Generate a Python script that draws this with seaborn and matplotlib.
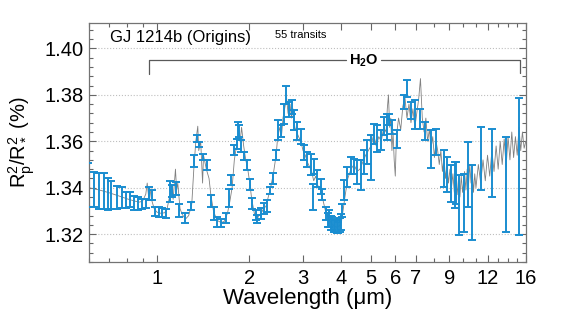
import numpy as np
import pandas as pd
import matplotlib
matplotlib.use("Agg")
import matplotlib.pyplot as plt
import seaborn as sns
from matplotlib.ticker import FixedLocator, FixedFormatter, NullFormatter, MultipleLocator, AutoMinorLocator

# simulated data points: wavelength (um), depth (%), 1-sigma error
wavelength = [0.597, 0.624, 0.649, 0.673, 0.694, 0.709, 0.742, 0.770, 0.794, 0.818,
              0.843, 0.869, 0.895, 0.923, 0.944, 0.965, 0.987, 1.017, 1.041, 1.072,
              1.105, 1.122, 1.156, 1.182, 1.237, 1.294, 1.323, 1.353, 1.374, 1.414,
              1.459, 1.504, 1.538, 1.573, 1.621, 1.683, 1.722, 1.748, 1.787, 1.828,
              1.842, 1.856, 1.884, 1.927, 1.971, 2.016, 2.046, 2.109, 2.125, 2.189,
              2.239, 2.290, 2.342, 2.395, 2.450, 2.487, 2.544, 2.602, 2.641, 2.702,
              2.764, 2.805, 2.870, 2.957, 3.024, 3.093, 3.187, 3.236, 3.261, 3.334,
              3.436, 3.462, 3.568, 3.622, 3.649, 3.690, 3.733, 3.776, 3.818, 3.860,
              3.905, 3.950, 3.994, 4.024, 4.085, 4.178, 4.305, 4.403, 4.504, 4.641,
              4.747, 4.855, 5.003, 5.117, 5.234, 5.394, 5.515, 5.641, 5.727, 5.857,
              6.081, 6.410, 6.556, 6.756, 6.962, 7.228, 7.505, 7.852, 8.151, 8.657,
              8.855, 9.125, 9.403, 9.474, 9.690, 10.06, 10.37, 10.69, 11.43, 12.42,
              13.80, 15.21]
depth = [1.3411, 1.3392, 1.3386, 1.3385, 1.3375, 1.3368, 1.3357, 1.3358, 1.3348, 1.3348,
         1.3334, 1.3332, 1.3329, 1.3331, 1.3375, 1.3368, 1.3297, 1.3295, 1.3293, 1.3290,
         1.3382, 1.3386, 1.3397, 1.3303, 1.3268, 1.3321, 1.3515, 1.3611, 1.3586, 1.3532,
         1.3497, 1.3343, 1.3289, 1.3253, 1.3248, 1.3268, 1.3357, 1.3432, 1.3561, 1.3590,
         1.3647, 1.3644, 1.3579, 1.3536, 1.3497, 1.3414, 1.3332, 1.3282, 1.3264, 1.3289,
         1.3311, 1.3321, 1.3389, 1.3440, 1.3540, 1.3647, 1.3644, 1.3719, 1.3801, 1.3737,
         1.3748, 1.3690, 1.3644, 1.3622, 1.3551, 1.3522, 1.3500, 1.3360, 1.3493, 1.3440,
         1.3407, 1.3371, 1.3289, 1.3262, 1.3268, 1.3250, 1.3246, 1.3238, 1.3235, 1.3232,
         1.3228, 1.3240, 1.3253, 1.3303, 1.3389, 1.3446, 1.3497, 1.3493, 1.3468, 1.3454,
         1.3511, 1.3554, 1.3529, 1.3633, 1.3611, 1.3604, 1.3665, 1.3661, 1.3694, 1.3661,
         1.3608, 1.3769, 1.3828, 1.3733, 1.3715, 1.3698, 1.3644, 1.3565, 1.3597, 1.3483,
         1.3457, 1.3418, 1.3411, 1.3422, 1.3325, 1.3335, 1.3457, 1.3335, 1.3526, 1.3508,
         1.3414, 1.3492]
depth_err = [0.0096, 0.0076, 0.0078, 0.0077, 0.0069, 0.0060, 0.0049, 0.0046, 0.0034, 0.0032,
             0.0029, 0.0027, 0.0022, 0.0020, 0.0029, 0.0022, 0.0020, 0.0020, 0.0020, 0.0020,
             0.0045, 0.0025, 0.0029, 0.0029, 0.0022, 0.0018, 0.0025, 0.0014, 0.0011, 0.0014,
             0.0022, 0.0025, 0.0029, 0.0022, 0.0019, 0.0022, 0.0039, 0.0022, 0.0022, 0.0022,
             0.0036, 0.0025, 0.0025, 0.0018, 0.0022, 0.0025, 0.0022, 0.0022, 0.0018, 0.0022,
             0.0022, 0.0025, 0.0014, 0.0022, 0.0022, 0.0043, 0.0025, 0.0043, 0.0039, 0.0032,
             0.0029, 0.0043, 0.0039, 0.0032, 0.0032, 0.0032, 0.0047, 0.0057, 0.0032, 0.0036,
             0.0032, 0.0025, 0.0029, 0.0030, 0.0036, 0.0030, 0.0029, 0.0028, 0.0025, 0.0027,
             0.0025, 0.0030, 0.0036, 0.0029, 0.0043, 0.0043, 0.0036, 0.0032, 0.0050, 0.0065,
             0.0050, 0.0050, 0.0097, 0.0043, 0.0057, 0.0043, 0.0039, 0.0057, 0.0025, 0.0029,
             0.0039, 0.0029, 0.0037, 0.0036, 0.0061, 0.0043, 0.0039, 0.0082, 0.0057, 0.0079,
             0.0075, 0.0079, 0.0100, 0.0090, 0.0129, 0.0125, 0.0140, 0.0161, 0.0136, 0.0147,
             0.0204, 0.0296]

# model spectrum (grey line)
model_wl = [0.60, 0.65, 0.70, 0.75, 0.80, 0.85, 0.88, 0.90, 0.92, 0.93, 0.94, 0.95, 0.96, 0.98,
            1.00, 1.03, 1.06, 1.08, 1.10, 1.12, 1.13, 1.15, 1.16, 1.17, 1.19, 1.21, 1.24, 1.27,
            1.30, 1.32, 1.34, 1.36, 1.37, 1.39, 1.41, 1.42, 1.45, 1.48, 1.50, 1.53, 1.57, 1.62,
            1.66, 1.70, 1.73, 1.76, 1.79, 1.82, 1.85, 1.87, 1.89, 1.92, 1.95, 1.98, 2.01, 2.04,
            2.08, 2.12, 2.15, 2.19, 2.23, 2.27, 2.31, 2.35, 2.40, 2.45, 2.48, 2.52, 2.55, 2.58,
            2.62, 2.65, 2.68, 2.72, 2.75, 2.78, 2.82, 2.86, 2.90, 2.95, 3.00, 3.05, 3.10, 3.15,
            3.20, 3.25, 3.30, 3.35, 3.42, 3.48, 3.55, 3.62, 3.70, 3.78, 3.86, 3.94, 4.00, 4.05,
            4.12, 4.20, 4.30, 4.40, 4.50, 4.60, 4.70, 4.80, 4.90, 5.00, 5.10, 5.20, 5.30, 5.40,
            5.50, 5.60, 5.65, 5.70, 5.75, 5.80, 5.85, 5.90, 5.95, 6.00, 6.05, 6.15, 6.25, 6.35,
            6.45, 6.55, 6.65, 6.75, 6.85, 6.95, 7.05, 7.15, 7.25, 7.35, 7.45, 7.55, 7.65, 7.75,
            7.85, 7.95, 8.05, 8.15, 8.25, 8.35, 8.45, 8.55, 8.65, 8.75, 8.85, 8.95, 9.05, 9.15,
            9.25, 9.35, 9.45, 9.55, 9.65, 9.75, 9.85, 9.95, 10.1, 10.2, 10.3, 10.4, 10.5, 10.6,
            10.7, 10.8, 10.9, 11.0, 11.2, 11.4, 11.6, 11.8, 12.0, 12.2, 12.4, 12.6, 12.8, 13.0,
            13.2, 13.4, 13.6, 13.8, 14.0, 14.2, 14.4, 14.6, 14.8, 15.0, 15.2, 15.4, 15.6, 15.8,
            16.0]
model_depth = [1.3400, 1.3390, 1.3378, 1.3365, 1.3352, 1.3342, 1.3338, 1.3345, 1.3372, 1.3420,
               1.3360, 1.3395, 1.3350, 1.3310, 1.3295, 1.3290, 1.3292, 1.3310, 1.3360, 1.3410,
               1.3350, 1.3480, 1.3390, 1.3420, 1.3310, 1.3285, 1.3265, 1.3280, 1.3330, 1.3480,
               1.3600, 1.3665, 1.3560, 1.3600, 1.3420, 1.3540, 1.3480, 1.3440, 1.3370, 1.3300,
               1.3260, 1.3250, 1.3255, 1.3290, 1.3340, 1.3400, 1.3520, 1.3580, 1.3640, 1.3600,
               1.3660, 1.3580, 1.3520, 1.3480, 1.3420, 1.3350, 1.3290, 1.3260, 1.3280, 1.3290,
               1.3310, 1.3320, 1.3360, 1.3400, 1.3460, 1.3540, 1.3620, 1.3660, 1.3620, 1.3700,
               1.3750, 1.3790, 1.3720, 1.3760, 1.3700, 1.3740, 1.3660, 1.3640, 1.3620, 1.3600,
               1.3560, 1.3540, 1.3510, 1.3490, 1.3470, 1.3430, 1.3450, 1.3410, 1.3390, 1.3350,
               1.3300, 1.3270, 1.3250, 1.3235, 1.3230, 1.3235, 1.3250, 1.3300, 1.3370, 1.3440,
               1.3480, 1.3500, 1.3470, 1.3480, 1.3510, 1.3540, 1.3560, 1.3580, 1.3630, 1.3580,
               1.3620, 1.3600, 1.3660, 1.3640, 1.3740, 1.3800, 1.3660, 1.3700, 1.3560, 1.3640,
               1.3520, 1.3450, 1.3620, 1.3700, 1.3650, 1.3750, 1.3790, 1.3700, 1.3760, 1.3680,
               1.3740, 1.3660, 1.3720, 1.3780, 1.3870, 1.3700, 1.3640, 1.3700, 1.3600, 1.3650,
               1.3570, 1.3620, 1.3530, 1.3600, 1.3560, 1.3500, 1.3560, 1.3470, 1.3530, 1.3440,
               1.3500, 1.3420, 1.3480, 1.3400, 1.3460, 1.3380, 1.3450, 1.3370, 1.3440, 1.3360,
               1.3450, 1.3380, 1.3470, 1.3390, 1.3480, 1.3410, 1.3500, 1.3420, 1.3470, 1.3380,
               1.3460, 1.3400, 1.3500, 1.3420, 1.3520, 1.3430, 1.3540, 1.3450, 1.3560, 1.3470,
               1.3580, 1.3480, 1.3600, 1.3500, 1.3610, 1.3490, 1.3620, 1.3520, 1.3640, 1.3530,
               1.3620, 1.3540, 1.3660, 1.3560, 1.3640, 1.3570, 1.3600]

major_ticks = [1, 2, 3, 4, 5, 6, 7, 9, 12, 16]
minor_ticks = [0.6, 0.7, 0.8, 0.9, 8, 10, 11, 13, 14, 15]

sns.set_theme(style="ticks")
plt.rcParams['font.family'] = ['Liberation Sans', 'DejaVu Sans']
plt.rcParams['mathtext.fontset'] = 'custom'
plt.rcParams['mathtext.rm'] = 'Liberation Sans'
plt.rcParams['mathtext.it'] = 'Liberation Sans'
plt.rcParams['mathtext.bf'] = 'Liberation Sans:bold'
plt.rcParams['text.color'] = 'black'
plt.rcParams['axes.labelcolor'] = 'black'

fig = plt.figure(figsize=(5.81, 3.09), dpi=100)
ax = fig.add_axes([0.153, 0.152, 0.752, 0.774])

model = pd.DataFrame({'wl': model_wl, 'depth': model_depth})
sns.lineplot(data=model, x='wl', y='depth', ax=ax, color='0.5', lw=0.6, estimator=None, zorder=2)

ax.errorbar(wavelength, depth, yerr=depth_err, fmt='none', ecolor='#1a8dd0',
            elinewidth=1.4, capsize=2.6, capthick=1.4, zorder=3)

ax.set_xscale('log')
ax.set_xlim(0.6, 16)
ax.set_ylim(1.308, 1.411)
ax.xaxis.set_major_locator(FixedLocator(major_ticks))
ax.xaxis.set_major_formatter(FixedFormatter([str(t) for t in major_ticks]))
ax.xaxis.set_minor_locator(FixedLocator(minor_ticks))
ax.xaxis.set_minor_formatter(NullFormatter())
ax.yaxis.set_major_locator(MultipleLocator(0.02))
ax.yaxis.set_minor_locator(AutoMinorLocator(5))
ax.yaxis.set_major_formatter(plt.FormatStrFormatter('%.2f'))

ax.yaxis.grid(True, which='major', linestyle=':', color='0.75', lw=0.8)
ax.set_axisbelow(True)

ax.tick_params(which='both', direction='in', top=True, right=True, colors='0.4',
               labelcolor='black', labelsize=14.5)
ax.tick_params(which='major', length=5, width=0.8)
ax.tick_params(which='minor', length=3, width=0.8)
ax.tick_params(axis='x', pad=5)
ax.tick_params(axis='y', pad=4)
for s in ax.spines.values():
    s.set_color('0.45')
    s.set_linewidth(0.9)

ax.set_xlabel('Wavelength (μm)', fontsize=16, labelpad=0)
ax.set_ylabel(r'R$_p^2$/R$_*^2$ (%)', fontsize=14.5, labelpad=5)

ax.text(0.048, 0.937, 'GJ 1214b (Origins)', transform=ax.transAxes, fontsize=12, va='center')
ax.text(0.426, 0.95, '55 transits', transform=ax.transAxes, fontsize=8, va='center')

# H2O band bracket
ax.plot([0.944, 0.944, 4.15], [1.3888, 1.3948, 1.3948], color='0.35', lw=0.9)
ax.plot([5.4, 15.3, 15.3], [1.3948, 1.3948, 1.3893], color='0.35', lw=0.9)
ax.text(4.72, 1.3948, r'$\mathbf{H_2O}$', fontsize=10.5, ha='center', va='center')

fig.savefig('out.png', dpi=100)
